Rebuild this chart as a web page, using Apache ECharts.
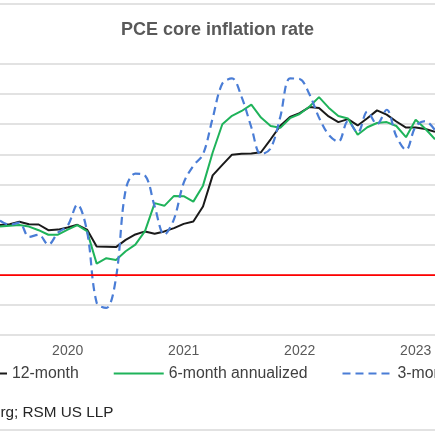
<!DOCTYPE html>
<html>
<head>
<meta charset="utf-8">
<script src="https://cdn.jsdelivr.net/npm/echarts@6/dist/echarts.min.js"></script>
<style>
html,body{margin:0;padding:0;width:435px;height:435px;overflow:hidden;background:#fff;}
#chart{width:435px;height:435px;}
</style>
</head>
<body>
<div id="chart"></div>
<script>
// Months Jun 2019 .. Mar 2023
const months = ["2019-06","2019-07","2019-08","2019-09","2019-10","2019-11","2019-12",
"2020-01","2020-02","2020-03","2020-04","2020-05","2020-06","2020-07","2020-08","2020-09","2020-10","2020-11","2020-12",
"2021-01","2021-02","2021-03","2021-04","2021-05","2021-06","2021-07","2021-08","2021-09","2021-10","2021-11","2021-12",
"2022-01","2022-02","2022-03","2022-04","2022-05","2022-06","2022-07","2022-08","2022-09","2022-10","2022-11","2022-12",
"2023-01","2023-02","2023-03"];

const twelveMonth = [1.65,1.68,1.76,1.68,1.67,1.48,1.50,
1.57,1.66,1.50,0.94,0.93,0.92,1.16,1.34,1.44,1.36,1.44,1.55,
1.69,1.77,2.27,3.30,3.65,3.99,4.02,4.03,4.07,4.50,4.95,5.24,
5.37,5.57,5.54,5.26,5.07,5.17,4.96,5.20,5.46,5.32,5.09,4.89,
4.89,4.84,4.75];

const sixMonthAnn = [1.60,1.63,1.65,1.60,1.48,1.33,1.33,
1.50,1.65,1.45,0.37,0.55,0.49,0.78,1.00,1.45,2.38,2.29,2.62,
2.61,2.43,2.96,4.06,5.00,5.28,5.44,5.65,5.22,4.94,4.88,5.20,
5.34,5.58,5.90,5.55,5.27,5.19,4.65,4.90,5.04,5.07,4.94,4.57,
5.15,4.85,4.50];

const threeMonthAnn = [1.80,1.66,1.73,1.26,1.33,1.00,1.40,
1.63,2.33,1.45,-0.93,-1.10,-0.10,2.82,3.36,3.30,2.27,1.33,1.85,
3.05,3.62,4.00,5.20,6.35,6.52,5.90,4.90,4.00,4.20,5.25,6.52,
6.50,6.00,5.22,4.65,4.42,5.10,4.72,5.42,5.00,5.48,4.60,4.15,
4.93,5.10,4.80];

const seriesNames = ["12-month","6-month annualized","3-month annualized"];
const titleText = "PCE core inflation rate";
const sourceText = "Source: Bloomberg; RSM US LLP";

const FONT = "'Liberation Sans', Arial, sans-serif";
const chart = echarts.init(document.getElementById('chart'), null, {renderer:'canvas'});
chart.setOption({
  animation:false,
  backgroundColor:'#ffffff',
  grid:{left:-9.5, right:-5.5, top:64, bottom:100, containLabel:false},
  xAxis:{
    type:'category', data:months, boundaryGap:false,
    axisLine:{show:false}, axisTick:{show:false}, splitLine:{show:false},
    axisLabel:{
      interval:function(i,v){return v.slice(5)==='01';},
      formatter:function(v){return v.slice(0,4);},
      color:'#595959', fontSize:14, fontFamily:FONT, margin:9
    }
  },
  yAxis:{
    type:'value', min:-2, max:7, interval:1,
    axisLabel:{show:false}, axisLine:{show:false}, axisTick:{show:false},
    splitLine:{lineStyle:{color:'#d9d9d9', width:1.5}}
  },
  legend:{
    left:-44, width:800, top:365.5, itemWidth:50, itemHeight:14, itemGap:34,
    padding:0,
    itemStyle:{opacity:0},
    textStyle:{color:'#404040', fontSize:15.8, fontFamily:FONT},
    data:seriesNames
  },
  graphic:[
    {type:'line', shape:{x1:0,y1:4,x2:435,y2:4}, style:{stroke:'#d9d9d9', lineWidth:1.5}},
    {type:'line', shape:{x1:0,y1:430,x2:435,y2:430}, style:{stroke:'#d9d9d9', lineWidth:1.5}},
    {type:'text', x:217.5, y:30, style:{text:titleText, font:'bold 18px '+FONT, fill:'#595959', textAlign:'center', textVerticalAlign:'middle'}},
    {type:'text', x:113.5, y:413, style:{text:sourceText, font:'15.3px '+FONT, fill:'#262626', textAlign:'right', textVerticalAlign:'middle'}}
  ],
  series:[
    {name:seriesNames[0], type:'line', data:twelveMonth, symbol:'none',
     lineStyle:{color:'#1a1a1a', width:2}, itemStyle:{color:'#1a1a1a'},
     markLine:{silent:true, symbol:'none', label:{show:false},
       lineStyle:{color:'#ff0000', width:1.75, type:'solid'}, data:[{yAxis:0}]}},
    {name:seriesNames[1], type:'line', data:sixMonthAnn, symbol:'none',
     lineStyle:{color:'#1fb35a', width:2}, itemStyle:{color:'#1fb35a'}},
    {name:seriesNames[2], type:'line', data:threeMonthAnn, symbol:'none', smooth:0.35,
     lineStyle:{color:'#4a7dd6', width:2.2, type:[8,5]}, itemStyle:{color:'#4a7dd6'}}
  ]
});
</script>
</body>
</html>
